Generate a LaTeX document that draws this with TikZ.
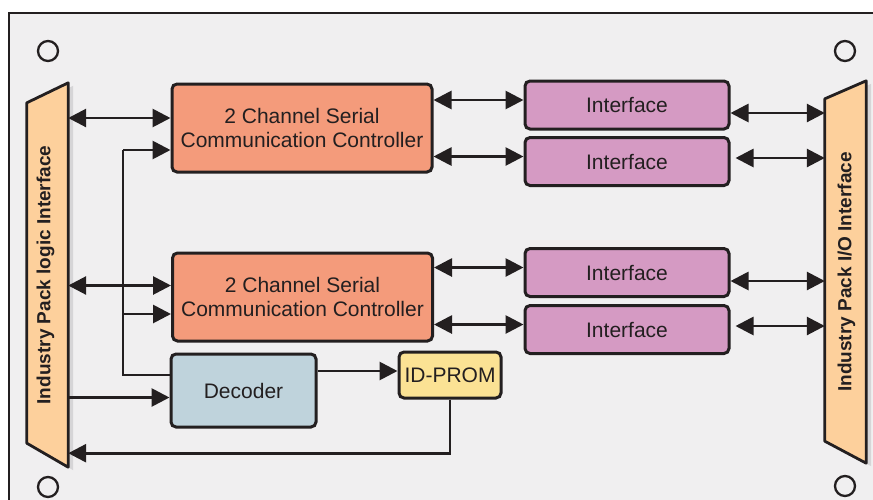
\documentclass[tikz,border=0pt]{standalone}
\usepackage{fontspec}
\setmainfont{Liberation Sans}
\usetikzlibrary{arrows.meta, positioning, calc}

\definecolor{frameBg}{HTML}{F0EFF0}
\definecolor{inkDark}{HTML}{231F20}
\definecolor{ctrlOrange}{HTML}{F49B7B}
\definecolor{ifacePink}{HTML}{D59AC3}
\definecolor{decBlue}{HTML}{BFD3DC}
\definecolor{promYellow}{HTML}{FBE294}
\definecolor{packTan}{HTML}{FDD09C}
\definecolor{shadeGray}{HTML}{D6D5D7}

\tikzset{
	block/.style = {draw=inkDark, line width=3pt, rounded corners=5pt, align=center,
		inner sep=0pt, text=inkDark, font=\fontsize{21}{24}\selectfont},
	ctrlbox/.style = {block, fill=ctrlOrange, minimum width=260pt, minimum height=88pt},
	ifacebox/.style = {block, fill=ifacePink, minimum width=204pt, minimum height=48pt},
	decbox/.style = {block, fill=decBlue, minimum width=145pt, minimum height=73pt},
	prombox/.style = {block, fill=promYellow, minimum width=102pt, minimum height=46pt},
	packarea/.style = {inner sep=0pt, minimum width=41pt},
	packtext/.style = {text=inkDark, font=\fontsize{19}{22}\selectfont\bfseries, rotate=90},
	link/.style = {draw=inkDark, line width=2.8pt, -{Triangle[length=18pt, width=18pt]}},
	bilink/.style = {link, {Triangle[length=18pt, width=18pt]}-{Triangle[length=18pt, width=18pt]}},
	bus/.style = {draw=inkDark, line width=2.8pt}
}

\begin{document}
\begin{tikzpicture}[x=1pt, y=-1pt]

	% Page and board frame.

	\useasboundingbox (0,0) rectangle (873,499);
	\clip (0,0) rectangle (873,499);
	\fill[white] (0,0) rectangle (873,499);
	\draw[fill=frameBg, draw=inkDark, line width=2.8pt] (9,13) rectangle (890,520);

	% Mounting holes.

	\draw[inkDark, line width=2.3pt] (48,51) circle (10);
	\draw[inkDark, line width=2.3pt] (845,51) circle (10);
	\draw[inkDark, line width=2.3pt] (48,487) circle (10);
	\draw[inkDark, line width=2.3pt] (845,486) circle (10);

	% Industry Pack interfaces.

	\node[packarea, minimum height=384pt] (lpack) at (47.5,275) {};
	\node[packarea, minimum height=382pt] (rpack) at (845.5,272) {};

	\fill[shadeGray] ([xshift=5pt, yshift=-3pt]lpack.north east) -- ([xshift=5pt, yshift=-3pt]lpack.south east)
		-- ([xshift=5pt, yshift=21pt]lpack.south west) -- ([xshift=5pt, yshift=-23pt]lpack.north west) -- cycle;
	\fill[shadeGray] ([xshift=5pt, yshift=-3pt]rpack.north east) -- ([xshift=5pt, yshift=-3pt]rpack.south east)
		-- ([xshift=5pt, yshift=19pt]rpack.south west) -- ([xshift=5pt, yshift=-21pt]rpack.north west) -- cycle;

	\draw[fill=packTan, draw=inkDark, line width=2.8pt, line join=round] (lpack.north east) -- (lpack.south east)
		-- ([yshift=24pt]lpack.south west) -- ([yshift=-20pt]lpack.north west) -- cycle;
	\draw[fill=packTan, draw=inkDark, line width=2.8pt, line join=round] (rpack.north east) -- (rpack.south east)
		-- ([yshift=22pt]rpack.south west) -- ([yshift=-18pt]rpack.north west) -- cycle;

	\node[packtext] (lpackLabel) at ([xshift=-2pt]lpack.center) {Industry Pack logic Interface};
	\node[packtext] (rpackLabel) at ([xshift=1pt]rpack.center) {Industry Pack I/O Interface};

	% Blocks.

	\node[ctrlbox] (ctrlA) at (302,128) {2 Channel Serial\\Communication Controller};
	\node[ctrlbox] (ctrlB) at (302.5,297) {2 Channel Serial\\Communication Controller};

	\node[ifacebox] (ifA) at (627,105) {Interface};
	\node[ifacebox] (ifB) at (627,161.5) {Interface};
	\node[ifacebox] (ifC) at (627,272.5) {Interface};
	\node[ifacebox] (ifD) at (627,329.5) {Interface};

	\node[decbox] (dec) at (243.5,390.5) {Decoder};
	\node[prombox] (prom) at (450,375) {ID-PROM};

	% Connector rows.

	\coordinate (bus) at (123,0);
	\coordinate (rowA) at ([yshift=10pt]ctrlA.west);
	\coordinate (rowB) at ([yshift=11.5pt]ctrlB.west);
	\coordinate (busA) at ([yshift=-22pt]ctrlA.west);
	\coordinate (busB) at ([yshift=-17pt]ctrlB.west);
	\coordinate (busDec) at ([yshift=15.5pt]dec.west);
	\coordinate (decIn) at ([yshift=-7pt]dec.west);
	\coordinate (decOut) at ([yshift=19.5pt]dec.east);
	\coordinate (romBack) at ([yshift=14pt]lpack.south east);

	\coordinate (ctrlToA) at ([yshift=5pt]ifA.west);
	\coordinate (ctrlToB) at ([yshift=5pt]ifB.west);
	\coordinate (ctrlToC) at ([yshift=5pt]ifC.west);
	\coordinate (ctrlToD) at ([yshift=5pt]ifD.west);

	\coordinate (ioA) at ([yshift=-8pt]ifA.east);
	\coordinate (ioB) at ([yshift=3.5pt]ifB.east);
	\coordinate (ioC) at ([yshift=-8.5pt]ifC.east);
	\coordinate (ioD) at ([yshift=3.5pt]ifD.east);

	% Draw logic side.

	\draw[bilink] (rowA -| lpack.east) -- (rowA);
	\draw[bilink] (rowB -| lpack.east) -- (rowB);

	\draw[bus] (busDec) -| (busA -| bus);
	\draw[link] (busA -| bus) -- (busA);
	\draw[link] (busB -| bus) -- (busB);

	\draw[link] (decIn -| lpack.east) -- (decIn);
	\draw[link] (decOut) -- (decOut -| prom.west);
	\draw[link] (prom.south) |- (romBack);

	% Draw controller to interface links.

	\draw[bilink] (ctrlToA -| ctrlA.east) -- (ctrlToA);
	\draw[bilink] (ctrlToB -| ctrlA.east) -- (ctrlToB);
	\draw[bilink] (ctrlToC -| ctrlB.east) -- (ctrlToC);
	\draw[bilink] (ctrlToD -| ctrlB.east) -- (ctrlToD);

	% Draw I/O side.

	\draw[bilink] (ioA) -- (ioA -| rpack.west);
	\draw[bilink] ([xshift=5pt]ioB) -- (ioB -| rpack.west);
	\draw[bilink] (ioC) -- (ioC -| rpack.west);
	\draw[bilink] ([xshift=5pt]ioD) -- (ioD -| rpack.west);

\end{tikzpicture}
\end{document}
